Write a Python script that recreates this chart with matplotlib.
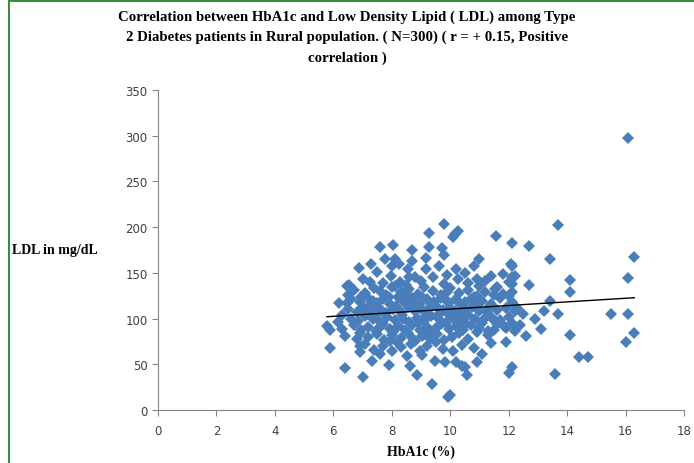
import numpy as np
import matplotlib
matplotlib.use('Agg')
import matplotlib.pyplot as plt
from matplotlib.lines import Line2D

# HbA1c (%) and LDL (mg/dL), point by point
hba1c = [
    16.1, 13.7, 12.1, 12.7, 13.4, 16.3, 12.1, 11.8, 12.1, 12.0, 12.7, 14.1, 16.1, 14.1, 12.1,
    13.4, 13.2, 13.7, 15.5, 16.1, 12.9, 13.1, 12.6, 14.1, 16.3, 16.0, 11.9, 14.4, 14.7, 12.1,
    12.0, 13.6, 12.0, 12.1, 11.9, 12.2, 12.0, 12.1, 11.9, 12.2,
    6.46, 6.2, 6.46, 5.78, 5.89, 6.29, 6.4, 5.89, 6.4, 6.8, 6.92, 7.03, 7.32, 7.89, 8.17,
    8.52, 8.63, 8.86, 9.37, 9.49, 9.83, 9.94, 10.0, 10.1, 10.2, 10.4, 10.5, 10.57, 10.91, 10.91,
    11.08, 11.25, 11.48, 11.83, 6.92, 8.74,
    9.8, 10.17, 10.27, 9.29, 11.57, 7.58, 8.04, 8.69, 9.29, 9.71, 9.8, 7.77, 8.12, 9.18, 6.89,
    7.99, 8.69, 9.18, 7.49, 8.56, 10.2, 12.09, 7.98, 12.23, 6.52, 7.26, 8.29, 8.8, 9.77, 10.28,
    10.91, 11.6, 12.1, 8.23, 10.1, 11.54,
    6.7, 7.1, 7.4, 7.8, 8.0, 8.3, 8.6, 8.9, 9.1, 9.4, 9.7, 10.0, 10.3, 10.6, 10.9, 11.2, 11.5,
    7.6, 9.9, 8.45,
    6.6, 6.9, 7.2, 7.5, 7.7, 7.95, 8.2, 8.4, 8.7, 8.95, 9.2, 9.45, 9.7, 9.95, 10.2, 10.5, 10.8,
    11.1, 11.4, 11.7, 7.35, 8.55, 9.05, 10.35, 6.95,
    6.5, 6.8, 7.0, 7.3, 7.55, 7.8, 8.05, 8.3, 8.55, 8.8, 9.0, 9.25, 9.5, 9.75, 10.0, 10.25, 10.5,
    10.75, 11.0, 11.3, 11.6, 7.15, 8.15, 9.6, 10.9,
    6.6, 6.85, 7.1, 7.35, 7.6, 7.85, 8.1, 8.35, 8.6, 8.85, 9.1, 9.35, 9.6, 9.85, 10.1, 10.35, 10.6,
    10.85, 11.1, 11.4, 11.7, 7.45, 8.9, 9.95, 10.45,
    6.7, 6.95, 7.2, 7.45, 7.7, 7.95, 8.2, 8.45, 8.7, 8.95, 9.2, 9.45, 9.7, 9.95, 10.2, 10.45, 10.7,
    11.0, 11.3, 11.6, 8.05, 9.55, 7.55,
    6.9, 7.2, 7.5, 7.75, 8.0, 8.3, 8.55, 8.8, 9.05, 9.3, 9.55, 9.8, 10.05, 10.3, 10.6, 11.3, 7.95, 9.2,
    7.1, 7.4, 7.7, 8.0, 8.3, 8.65, 8.95, 9.2, 9.5, 9.75, 10.4, 10.8, 11.4, 7.6, 9.05,
    7.0, 7.7, 8.5, 9.0, 9.4, 10.6, 11.2, 11.0, 9.9, 8.1, 10.5, 11.4,
    6.3, 6.15, 6.5, 7.25, 7.9, 8.75, 9.3, 9.85, 10.15, 10.7, 11.15, 11.5, 12.3, 12.5, 11.8, 12.4,
    8.4, 9.15, 7.65, 10.55, 8.6, 9.6, 10.8, 11.0, 7.3,
]
ldl = [
    298, 202, 183, 179, 165, 167, 157, 149, 145, 140, 137, 142, 144, 129, 129,
    119, 108, 105, 105, 105, 99, 89, 81, 82, 84, 74, 74, 58, 58, 47,
    41, 39, 125, 118, 112, 108, 102, 95, 90, 86,
    136, 117, 117, 92, 88, 89, 81, 68, 46, 78, 70, 36, 54, 49, 74,
    59, 48, 38, 28, 54, 52, 14, 16, 65, 52, 48, 47, 38, 85, 52,
    61, 107, 100, 92, 63, 78,
    203, 193, 196, 194, 190, 178, 180, 175, 178, 177, 169, 165, 165, 166, 155,
    158, 163, 154, 151, 154, 154, 160, 147, 147, 137, 140, 140, 145, 138, 143,
    143, 134, 138, 160, 189, 132,
    131, 128, 133, 126, 134, 129, 132, 127, 135, 130, 126, 133, 128, 131, 125, 129, 126,
    130, 129, 126,
    121, 118, 123, 117, 121, 116, 124, 119, 122, 116, 121, 118, 123, 117, 121, 118, 124,
    119, 116, 122, 119, 117, 124, 116, 124,
    110, 107, 113, 108, 112, 106, 111, 107, 113, 108, 111, 106, 114, 109, 112, 106, 110,
    113, 108, 112, 109, 105, 114, 105, 115,
    100, 97, 103, 99, 96, 102, 98, 104, 96, 101, 97, 103, 99, 95, 101, 97, 104,
    99, 95, 102, 98, 104, 95, 104, 100,
    93, 88, 91, 86, 94, 89, 92, 87, 93, 88, 91, 86, 94, 89, 92, 87, 93,
    90, 86, 94, 85, 91, 90,
    84, 80, 83, 77, 82, 79, 84, 76, 81, 78, 83, 77, 80, 84, 78, 82, 76, 84,
    72, 66, 70, 64, 69, 72, 65, 70, 74, 67, 71, 68, 73, 61, 60,
    143, 139, 137, 141, 146, 139, 141, 136, 148, 136, 150, 147,
    104, 96, 126, 115, 124, 118, 113, 120, 108, 121, 100, 88, 112, 105, 127, 93,
    100, 102, 108, 94, 146, 158, 158, 165, 160,
]

x_ticks = [0, 2, 4, 6, 8, 10, 12, 14, 16, 18]
y_ticks = [0, 50, 100, 150, 200, 250, 300, 350]

title = ('Correlation between HbA1c and Low Density Lipid ( LDL) among Type\n'
         '2 Diabetes patients in Rural population. ( N=300) ( r = + 0.15, Positive\n'
         'correlation )')

point_color = '#4a7ebb'
axis_color = '#868686'
serif = ['Liberation Serif', 'DejaVu Serif']

x = np.array(hba1c)
y = np.array(ldl)

fig = plt.figure(figsize=(6.94, 4.64), dpi=100)
ax = fig.add_axes([0.2277, 0.1142, 0.7579, 0.6897])

ax.plot(x, y, linestyle='none', marker='D', markersize=5.8,
        color=point_color, markeredgewidth=0)

# linear trendline, like Excel's
slope, intercept = np.polyfit(x, y, 1)
xs = np.array([x.min(), x.max()])
ax.plot(xs, slope * xs + intercept, color='black', linewidth=1)

ax.set_xlim(0, 18)
ax.set_ylim(0, 350)
ax.set_xticks(x_ticks)
ax.set_yticks(y_ticks)
for side in ['top', 'right']:
    ax.spines[side].set_visible(False)
for side in ['left', 'bottom']:
    ax.spines[side].set_color(axis_color)
ax.tick_params(axis='both', colors=axis_color, labelcolor='#404040',
               labelsize=8.5, length=4)
ax.tick_params(axis='x', pad=6)

fig.text(0.5, 0.978, title, ha='center', va='top', family=serif,
         fontweight='bold', fontsize=10.7, linespacing=1.7)
fig.text(0.018, 0.46, 'LDL in mg/dL', ha='left', va='center', family=serif,
         fontweight='bold', fontsize=10)
fig.text(0.607, 0.025, 'HbA1c (%)', ha='center', va='center', family=serif,
         fontweight='bold', fontsize=10)

# green frame on the left and top edges
fig.add_artist(Line2D([0.013, 0.013], [0, 0.996], transform=fig.transFigure,
                      color='#3c8c3c', linewidth=1.5))
fig.add_artist(Line2D([0.013, 1], [0.996, 0.996], transform=fig.transFigure,
                      color='#3c8c3c', linewidth=1.5))

plt.savefig('out.png', dpi=100)
